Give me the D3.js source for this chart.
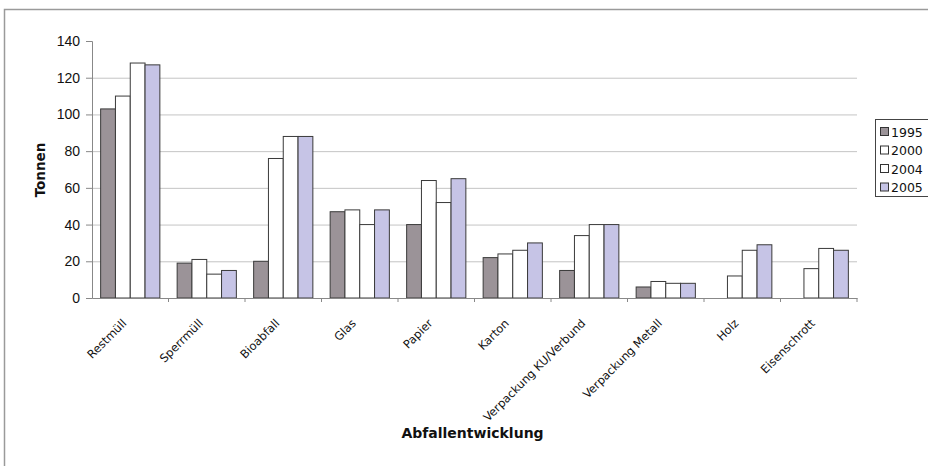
<!DOCTYPE html>
<html>
<head>
<meta charset="utf-8">
<script src="https://cdn.jsdelivr.net/npm/d3@7"></script>
<style>
  html, body { margin: 0; padding: 0; background: #fff; }
  svg { display: block; }
</style>
</head>
<body>
<svg id="chart" width="928" height="466"></svg>
<script>
const categories = ["Restmüll", "Sperrmüll", "Bioabfall", "Glas", "Papier", "Karton",
  "Verpackung KU/Verbund", "Verpackung Metall", "Holz", "Eisenschrott"];
const years = ["1995", "2000", "2004", "2005"];
const values1995 = [103, 19, 20, 47, 40, 22, 15, 6, null, null];
const values2000 = [110, 21, 76, 48, 64, 24, 34, 9, 12, 16];
const values2004 = [128, 13, 88, 40, 52, 26, 40, 8, 26, 27];
const values2005 = [127, 15, 88, 48, 65, 30, 40, 8, 29, 26];
const yTicks = [0, 20, 40, 60, 80, 100, 120, 140];
const yTitle = "Tonnen";
const xTitle = "Abfallentwicklung";

const seriesValues = [values1995, values2000, values2004, values2005];
const colors = ["#9b9398", "#ffffff", "#ffffff", "#c6c4e6"];

const svg = d3.select("#chart");

// outer frame
svg.append("path")
  .attr("d", "M4.5,470 L4.5,9.5 L935,9.5")
  .attr("fill", "none").attr("stroke", "#9a9a9a").attr("stroke-width", 1.5);

const mLeft = 92, mRight = 857, mTop = 41, mBottom = 298;
const x0 = d3.scaleBand().domain(categories).range([mLeft, mRight]).padding(0);
const bw = x0.bandwidth();
const x1 = d3.scaleBand().domain(years).range([bw * 0.113, bw * (1 - 0.113)]).padding(0);
const y = d3.scaleLinear().domain([0, 140]).range([mBottom, mTop]);

// gridlines
svg.append("g").selectAll("line")
  .data(yTicks.filter(t => t > 0 && t < 140))
  .join("line")
  .attr("x1", mLeft).attr("x2", mRight)
  .attr("y1", d => y(d) + 0.5).attr("y2", d => y(d) + 0.5)
  .attr("stroke", "#c4c4c4").attr("stroke-width", 1);

// bars
const groups = svg.append("g").selectAll("g")
  .data(categories)
  .join("g")
  .attr("transform", d => `translate(${x0(d)},0)`);

groups.selectAll("rect")
  .data((c, i) => years.map((yr, j) => ({ yr, j, v: seriesValues[j][i] })).filter(d => d.v != null))
  .join("rect")
  .attr("x", d => x1(d.yr))
  .attr("width", x1.bandwidth())
  .attr("y", d => y(d.v))
  .attr("height", d => y(0) - y(d.v))
  .attr("fill", d => colors[d.j])
  .attr("stroke", "#3a3a3a")
  .attr("stroke-width", 1);

// y axis
const yAxis = d3.axisLeft(y).tickValues(yTicks).tickSize(6).tickPadding(6);
const yg = svg.append("g").attr("transform", `translate(${mLeft},0)`).call(yAxis);
yg.select(".domain").attr("stroke", "#888");
yg.selectAll(".tick line").attr("stroke", "#888");
yg.selectAll("text")
  .attr("font-family", "Liberation Sans, Arial, sans-serif")
  .attr("font-size", 14).attr("fill", "#111");

// x axis
const xAxis = d3.axisBottom(x0).tickSize(0).tickFormat("");
const xg = svg.append("g").attr("transform", `translate(0,${mBottom})`).call(xAxis);
xg.select(".domain").attr("stroke", "#888");
xg.selectAll(".tick").remove();
svg.append("g").selectAll("line")
  .data(categories)
  .join("line")
  .attr("x1", d => x0(d) + bw)
  .attr("x2", d => x0(d) + bw)
  .attr("y1", mBottom).attr("y2", mBottom + 4)
  .attr("stroke", "#888");

// category labels
svg.append("g").selectAll("text")
  .data(categories)
  .join("text")
  .attr("transform", d => `translate(${x0(d) + bw / 2 - 3},${mBottom + 26}) rotate(-45)`)
  .attr("text-anchor", "end")
  .attr("font-family", "DejaVu Sans, Verdana, sans-serif")
  .attr("font-size", 11.5)
  .attr("fill", "#111")
  .text(d => d);

// axis titles
svg.append("text")
  .attr("transform", `translate(45,170) rotate(-90)`)
  .attr("text-anchor", "middle")
  .attr("font-family", "DejaVu Sans, Verdana, sans-serif")
  .attr("font-weight", "bold")
  .attr("font-size", 13.5)
  .attr("fill", "#111")
  .text(yTitle);

svg.append("text")
  .attr("x", (mLeft + mRight) / 2 - 2)
  .attr("y", 438)
  .attr("text-anchor", "middle")
  .attr("font-family", "DejaVu Sans, Verdana, sans-serif")
  .attr("font-weight", "bold")
  .attr("font-size", 14)
  .attr("fill", "#111")
  .text(xTitle);

// legend
const lg = svg.append("g");
lg.append("rect")
  .attr("x", 875.5).attr("y", 119.5).attr("width", 60).attr("height", 77)
  .attr("fill", "#fff").attr("stroke", "#444").attr("stroke-width", 1);
const items = lg.selectAll("g.item")
  .data(years)
  .join("g")
  .attr("class", "item")
  .attr("transform", (d, i) => `translate(0,${132 + i * 18.5})`);
items.append("rect")
  .attr("x", 880.5).attr("y", -4.5).attr("width", 8).attr("height", 8)
  .attr("fill", (d, i) => colors[i]).attr("stroke", "#333");
items.append("text")
  .attr("x", 891).attr("y", 4.5)
  .attr("font-family", "DejaVu Sans, Verdana, sans-serif")
  .attr("font-size", 12.5)
  .attr("fill", "#111")
  .text(d => d);
</script>
</body>
</html>
